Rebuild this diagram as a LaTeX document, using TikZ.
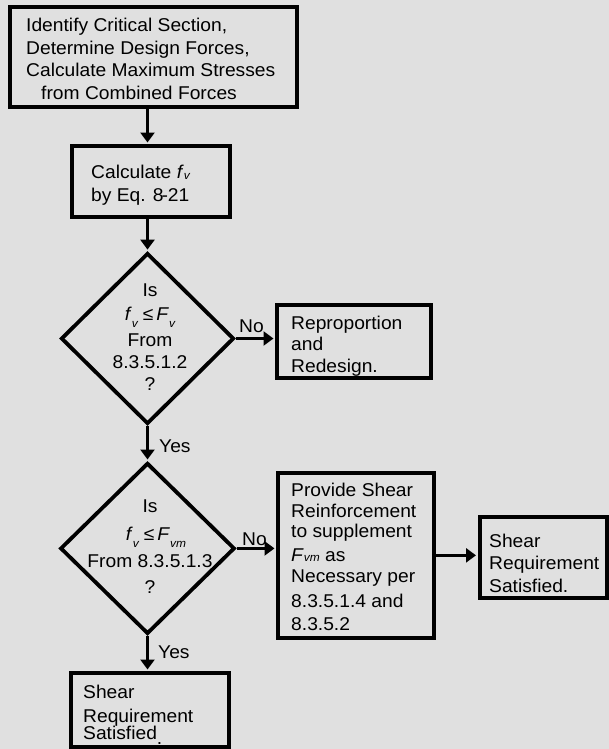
\documentclass[tikz,border=0pt]{standalone}
\usepackage{fontspec}
\setmainfont{Liberation Sans}[FakeStretch=1.04]
\usetikzlibrary{shapes.geometric,arrows.meta}
\definecolor{bg}{RGB}{224,224,224}
% small italic index, lowered by #1
\newcommand\idx[2]{\raisebox{-#1}{\fontsize{11.5}{11.5}\selectfont\itshape #2}}
\begin{document}
\begin{tikzpicture}[x=1pt,y=-1pt,
  box/.style={draw, line width=4pt, fill=bg, inner sep=0pt},
  dia/.style={diamond, draw, line width=3.8pt, fill=bg, inner sep=0pt},
  flow/.style={line width=3.5pt, -{Triangle[length=10pt,width=14pt]}, shorten >=1.5pt},
  % multi-line texts are placed by the baseline of their last line
  txt/.style={inner sep=0pt, align=left, anchor=base west,
    font=\fontsize{18.5}{22.5}\selectfont},
  ctxt/.style={txt, align=center, anchor=base},
  lbl/.style={inner sep=0pt, anchor=base west, font=\fontsize{18.5}{22.5}\selectfont}]
\fill[bg] (0,0) rectangle (609,749);
\useasboundingbox (0,0) rectangle (609,749);

% boxes and decisions
\node[box, minimum width=287.5, minimum height=100] (b1) at (153.25,57) {};
\node[box, minimum width=158, minimum height=70.5] (b2) at (151,181.25) {};
\node[dia, minimum width=173, minimum height=171] (d1) at (147.5,338.5) {};
\node[box, minimum width=153.5, minimum height=73] (r1) at (353.75,341.5) {};
\node[dia, minimum width=174.5, minimum height=171] (d2) at (147.5,548.4) {};
\node[box, minimum width=155.5, minimum height=165.3] (p1) at (355.75,555.35) {};
\node[box, minimum width=127.5, minimum height=81] (s1) at (543.25,557.5) {};
\node[box, minimum width=158.5, minimum height=74] (s2) at (149.75,710) {};

% texts
\node[txt] (t1) at (26,99.3) {Identify Critical Section,\\Determine Design Forces,\\Calculate Maximum Stresses\\\hspace*{15pt}from Combined Forces};
\node[txt] (t2) at (91,201) {Calculate \textit{f}\idx{1pt}{v}\\by Eq. 8\kern-2pt-21};
\node[ctxt, font=\fontsize{18.5}{22}\selectfont] (t3) at (150,390)
  {Is\\[2pt]\textit{f}\idx{7pt}{v}\hspace{5pt}≤\hspace{3pt}\textit{F}\idx{7pt}{v}\\[4pt]From\\8.3.5.1.2\\?};
\node[ctxt, font=\fontsize{18.5}{22}\selectfont] (t4) at (150,593)
  {Is\\[6pt]\hspace*{12pt}\textit{f}\idx{7pt}{v}\hspace{5pt}≤\hspace{3pt}\textit{F}\idx{7pt}{vm}\\[5pt]From 8.3.5.1.3\hspace*{9pt}\\[4pt]?};
\node[txt, font=\fontsize{18.5}{21.5}\selectfont] (t5) at (291,372) {Reproportion\\and\\Redesign.};
\node[txt, font=\fontsize{18.5}{22}\selectfont] (t6) at (291,630)
  {Provide Shear\\[-1pt]Reinforcement\\[-2pt]to supplement\\[2pt]\textit{F}\idx{0pt}{vm} as\\[-1pt]Necessary per\\[3pt]8.3.5.1.4 and\\[1pt]8.3.5.2};
\node[txt] (t7) at (489,592) {Shear\\Requirement\\Satisfied.};
\node[txt] (t8) at (83,739) {Shear\\[1.5pt]Requirement\\[-5.5pt]Satisfied\raisebox{-5pt}{.}};

% branch labels
\node[lbl] (n1) at (239,332) {No};
\node[lbl] (y1) at (159,452) {Yes};
\node[lbl] (n2) at (242,545) {No};
\node[lbl] (y2) at (158,658) {Yes};

% connectors
\draw[flow] (b1.south -| d1.north) -- (b2.north -| d1.north);
\draw[flow] (b2.south -| d1.north) -- (d1.north);
\draw[flow] (d1.east) -- (d1.east -| r1.west);
\draw[flow] (d1.south) -- (d2.north);
\draw[flow] (d2.east) -- (d2.east -| p1.west);
\draw[flow] (p1.east) -- (p1.east -| s1.west);
\draw[flow] (d2.south) -- (d2.south |- s2.north);
\end{tikzpicture}
\end{document}
